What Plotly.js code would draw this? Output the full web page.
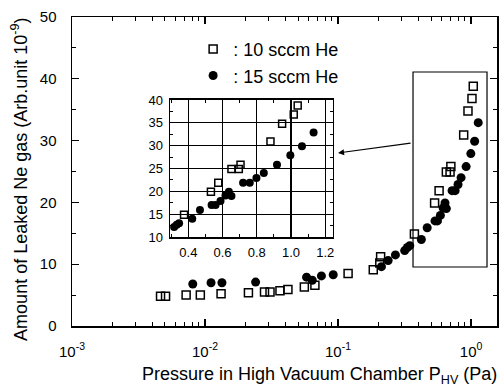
<!DOCTYPE html>
<html>
<head>
<meta charset="utf-8">
<script src="https://cdn.plot.ly/plotly-3.0.1.min.js"></script>
<style>html,body{margin:0;padding:0;background:#fff;}#chart{width:500px;height:386px;}</style>
</head>
<body>
<div id="chart"></div>
<script>
// 10 sccm He (open squares)
const p10 = [0.00463, 0.00505, 0.00721, 0.00922, 0.0132, 0.0212, 0.028, 0.0308, 0.0366, 0.042, 0.0558, 0.067, 0.119, 0.184, 0.206, 0.209, 0.375, 0.532, 0.575, 0.652, 0.695, 0.705, 0.88, 0.948, 1.016, 1.039];
const ne10 = [4.8, 4.8, 5.0, 5.0, 5.2, 5.4, 5.5, 5.5, 5.7, 5.9, 6.3, 6.6, 8.5, 9.1, 10.2, 11.2, 14.9, 19.9, 21.9, 24.9, 24.9, 25.8, 30.9, 34.8, 36.8, 38.8];
// 15 sccm He (filled circles)
const p15 = [0.00809, 0.0111, 0.0134, 0.024, 0.058, 0.064, 0.075, 0.092, 0.212, 0.238, 0.27, 0.317, 0.332, 0.346, 0.423, 0.468, 0.536, 0.559, 0.588, 0.617, 0.637, 0.652, 0.72, 0.759, 0.798, 0.841, 0.918, 0.996, 1.064, 1.132];
const ne15 = [6.8, 7.0, 7.0, 7.1, 7.9, 7.4, 8.1, 8.3, 9.6, 10.6, 11.5, 12.2, 12.7, 13.0, 14.0, 15.9, 17.0, 17.0, 17.9, 19.1, 19.9, 19.0, 21.9, 21.9, 22.9, 24.0, 25.8, 27.9, 29.9, 32.9];

const names = [': 10 sccm He', ': 15 sccm He'];
const xTickVals = [0.001, 0.01, 0.1, 1];
const xTickText = ['10<sup>-3</sup>', '10<sup>-2</sup>', '10<sup>-1</sup>', '10<sup>0</sup>'];

const minorX = [];
for (let e = -3; e <= 0; e++) for (let k = 2; k <= 9; k++) minorX.push(k * Math.pow(10, e));

const FONT = 'Arial, "Liberation Sans", sans-serif';
const sq = {symbol: 'square-open', size: 8, color: '#000', line: {color: '#000', width: 1.5}};
const ci = {symbol: 'circle', size: 9, color: '#000'};

const traces = [
  {x: p10, y: ne10, type: 'scatter', mode: 'markers', name: names[0], marker: sq, legendgroup: 'a'},
  {x: p15, y: ne15, type: 'scatter', mode: 'markers', name: names[1], marker: ci, legendgroup: 'b'},
  {x: p10, y: ne10, type: 'scatter', mode: 'markers', xaxis: 'x2', yaxis: 'y2', showlegend: false,
   marker: {symbol: 'square-open', size: 7, color: '#000', line: {color: '#000', width: 1.5}}},
  {x: p15, y: ne15, type: 'scatter', mode: 'markers', xaxis: 'x2', yaxis: 'y2', showlegend: false,
   marker: {symbol: 'circle', size: 8, color: '#000'}}
];

const layout = {
  width: 500, height: 386,
  margin: {l: 72, r: 3, t: 17, b: 60},
  paper_bgcolor: '#fff', plot_bgcolor: '#fff',
  font: {family: FONT, color: '#000', size: 14},
  showlegend: true,
  legend: {x: 0.285, y: 0.955, xanchor: 'left', yanchor: 'top', font: {size: 18}, bgcolor: 'rgba(0,0,0,0)',
           tracegroupgap: 0, traceorder: 'grouped'},
  xaxis: {
    type: 'log', range: [-3, 0.195], domain: [0, 1],
    tickmode: 'array', tickvals: xTickVals, ticktext: xTickText,
    ticks: 'inside', ticklen: 7, tickwidth: 1.2, tickcolor: '#000',
    minor: {tickmode: 'array', tickvals: minorX, ticks: 'inside', ticklen: 4, tickwidth: 1, tickcolor: '#000'},
    showline: true, linecolor: '#000', linewidth: 1.5, mirror: 'allticks',
    showgrid: false, zeroline: false, tickfont: {size: 15}, ticklabelstandoff: 11
  },
  yaxis: {
    range: [0, 50], dtick: 10, domain: [0, 1],
    ticks: 'inside', ticklen: 7, tickwidth: 1.2, tickcolor: '#000',
    minor: {dtick: 5, ticks: 'inside', ticklen: 4, tickwidth: 1, tickcolor: '#000'},
    showline: true, linecolor: '#000', linewidth: 1.5, mirror: 'allticks',
    showgrid: false, zeroline: false, tickfont: {size: 15}, ticklabelstandoff: 11
  },
  xaxis2: {
    domain: [0.2306, 0.614], range: [0.293, 1.245], anchor: 'y2',
    tick0: 0.4, dtick: 0.2, tickformat: '.1f',
    ticks: 'inside', ticklen: 5, tickwidth: 1, tickcolor: '#000',
    minor: {dtick: 0.1, ticks: 'inside', ticklen: 3, tickcolor: '#000', showgrid: false},
    showgrid: true, gridcolor: '#000', gridwidth: 1.2,
    showline: true, linecolor: '#000', linewidth: 1.5, mirror: 'allticks',
    zeroline: false, tickfont: {size: 13}, ticklabelstandoff: 3
  },
  yaxis2: {
    domain: [0.288, 0.7314], range: [10, 40], anchor: 'x2',
    dtick: 5, ticks: 'inside', ticklen: 5, tickwidth: 1, tickcolor: '#000',
    minor: {dtick: 2.5, ticks: 'inside', ticklen: 3, tickcolor: '#000', showgrid: false},
    showgrid: true, gridcolor: '#000', gridwidth: 1.2,
    showline: true, linecolor: '#000', linewidth: 1.5, mirror: 'allticks',
    zeroline: false, tickfont: {size: 13}, ticklabelstandoff: 3
  },
  shapes: [
    {type: 'rect', xref: 'paper', yref: 'paper', x0: 0.8024, x1: 0.9765, y0: 0.191, y1: 0.822,
     line: {color: '#000', width: 1.2}, fillcolor: 'rgba(0,0,0,0)'}
  ],
  annotations: [
    {xref: 'paper', yref: 'paper', x: 0.626, y: 0.56, ax: 74, ay: -10, text: '', showarrow: true,
     arrowhead: 2, arrowsize: 1, arrowwidth: 1.2, arrowcolor: '#000'},
    {xref: 'paper', yref: 'paper', x: 0.583, y: -0.117, xanchor: 'center', yanchor: 'top', showarrow: false,
     text: 'Pressure in High Vacuum Chamber P<sub>HV</sub> (Pa)', font: {size: 18}},
    {xref: 'paper', yref: 'paper', x: -0.1224, y: 0.476, xanchor: 'center', yanchor: 'middle', showarrow: false,
     textangle: -90, text: 'Amount of Leaked Ne gas (Arb.unit 10<sup>-9</sup>)', font: {size: 18}}
  ]
};

Plotly.newPlot('chart', traces, layout, {displayModeBar: false, staticPlot: true});
</script>
</body>
</html>
